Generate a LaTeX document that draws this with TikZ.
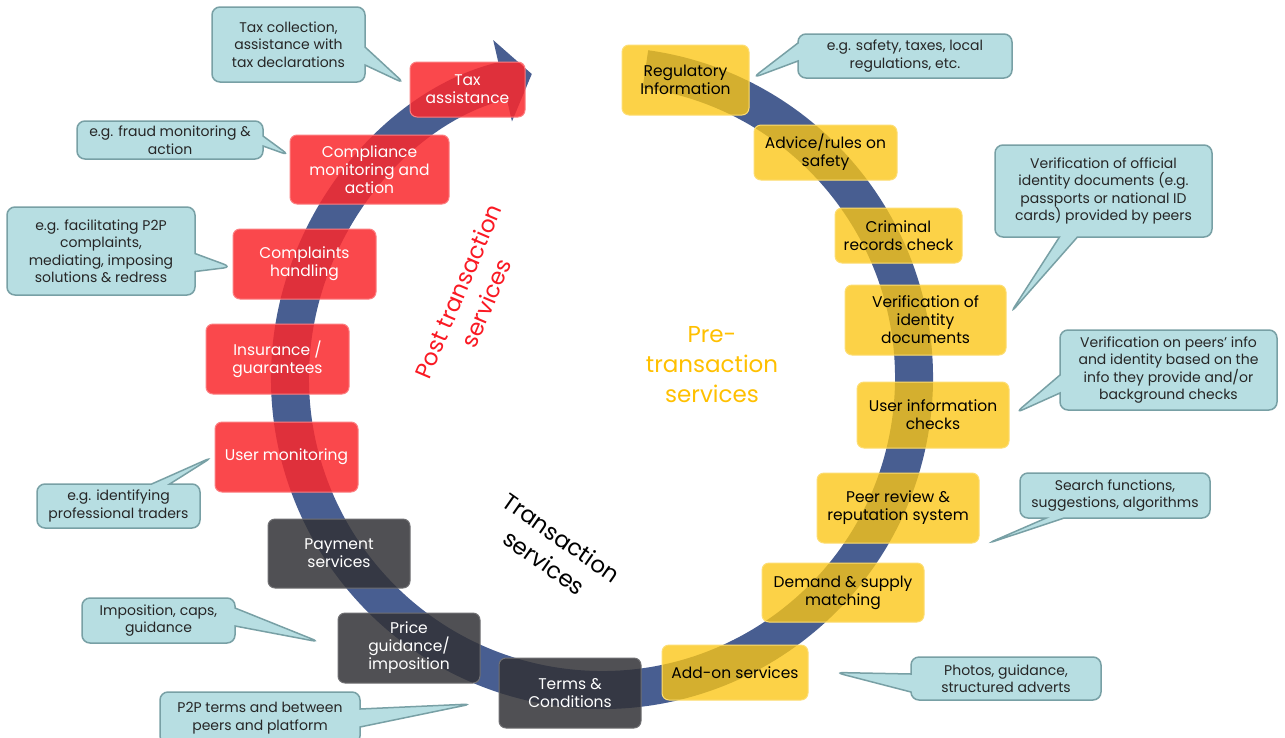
\documentclass[tikz,border=0pt]{standalone}
\usepackage{fontspec}
\setmainfont{Poppins}
\usetikzlibrary{arrows.meta,shapes.callouts,calc}

\definecolor{bandblue}{RGB}{72,94,145}
\definecolor{postred}{RGB}{250,40,45}
\definecolor{preyellow}{RGB}{252,198,20}
\definecolor{transgrey}{RGB}{50,50,55}
\definecolor{notefill}{RGB}{183,222,226}
\definecolor{noteline}{RGB}{120,160,165}
\definecolor{postlabel}{RGB}{250,25,35}
\definecolor{prelabel}{RGB}{255,192,0}

\tikzset{
  wh/.style 2 args={minimum width=#1pt, minimum height=#2pt},
  svc/.style={rectangle, rounded corners=7pt, align=center, inner sep=2pt,
    line width=1pt, text opacity=1, font=\fontsize{15.5}{18}\selectfont},
  postbox/.style={svc, fill=postred, fill opacity=0.85, draw=postred!60!white, text=white},
  prebox/.style={svc, fill=preyellow, fill opacity=0.78, draw=preyellow!60!white, text=black},
  transbox/.style={svc, fill=transgrey, fill opacity=0.85, draw=transgrey!70!white, text=white},
  note/.style={rectangle callout, rounded corners=8pt, fill=notefill, draw=noteline,
    line width=1.5pt, align=center, inner sep=2pt, text=black!85,
    callout pointer width=18pt, font=\fontsize{14}{17.5}\selectfont},
  phase/.style={align=center, font=\fontsize{23}{30}\selectfont},
}

\begin{document}
\begin{tikzpicture}[x=1pt, y=-1pt]
    \fill[white] (0,0) rectangle (1285,737);
    \useasboundingbox (0,0) rectangle (1285,737);

    % the cycle
    \draw[line width=38pt, bandblue, -{Triangle[width=82pt,length=30pt]}]
        (602,378) ++(-82:312) arc[start angle=-82, end angle=257, radius=312];

    % pre-transaction services
    \node[prebox, wh={127}{70}] (reg) at (685.5,80) {Regulatory\\Information};
    \node[prebox, wh={143}{55}] (advice) at (825.5,152.5) {Advice/rules on\\safety};
    \node[prebox, wh={127}{55}] (crim) at (898.5,235.5) {Criminal\\records check};
    \node[prebox, wh={161}{70}] (verif) at (925.5,320) {Verification of\\identity\\documents};
    \node[prebox, wh={152}{66}] (uinfo) at (933,415) {User information\\checks};
    \node[prebox, wh={162}{70}] (peer) at (898,508) {Peer review \&\\reputation system};
    \node[prebox, wh={162}{59}] (demand) at (843,592.5) {Demand \& supply\\matching};
    \node[prebox, wh={146}{55}] (addon) at (735,672.5) {Add-on services};

    % transaction services
    \node[transbox, wh={142}{70}] (terms) at (570,693) {Terms \&\\Conditions};
    \node[transbox, wh={142}{70}] (price) at (409,648) {Price\\guidance/\\imposition};
    \node[transbox, wh={142}{69}] (pay) at (339,553.5) {Payment\\services};

    % post transaction services
    \node[postbox, wh={143}{70}] (umon) at (286.5,457) {User monitoring};
    \node[postbox, wh={143}{70}] (insur) at (277.5,359) {Insurance /\\guarantees};
    \node[postbox, wh={143}{70}] (compl) at (304.5,264) {Complaints\\handling};
    \node[postbox, wh={159}{69}] (compli) at (369.5,169.5) {Compliance\\monitoring and\\action};
    \node[postbox, wh={115}{55}] (tax) at (467.5,89.5) {Tax\\assistance};

    % phase labels
    \node[phase, text=prelabel] (prelbl) at (712,365) {Pre-\\transaction\\services};
    \node[phase, text=postlabel, rotate=67] (postlbl) at (472,297) {Post transaction\\services};
    \node[phase, text=black, rotate=-35] (translbl) at (553,550) {Transaction\\services};

    % notes
    \node[note, wh={153}{75}, callout absolute pointer={($(tax.west)+(-5,-6)$)}]
        (ntax) at (288.5,44.5) {Tax collection,\\assistance with\\tax declarations};
    \node[note, wh={186}{38}, callout pointer width=10pt,
        callout absolute pointer={($(compli.west)+(0,-14)$)}]
        (ncompli) at (170,140) {e.g. fraud monitoring \&\\action};
    \node[note, wh={188}{88}, callout absolute pointer={($(compl.west)+(-1,3)$)}]
        (ncompl) at (101,251) {e.g. facilitating P2P\\complaints,\\mediating, imposing\\solutions \& redress};
    \node[note, wh={163}{44}, callout absolute pointer={($(umon.west)+(-2,0)$)}]
        (numon) at (118.5,506) {e.g. identifying\\professional traders};
    \node[note, wh={153}{45}, callout absolute pointer={($(price.west)+(-18,-6)$)}]
        (nprice) at (158.5,620.5) {Imposition, caps,\\guidance};
    \node[note, wh={200}{52}, callout absolute pointer={($(terms.west)+(-27,11)$)}]
        (nterms) at (260,718) {P2P terms and between\\peers and platform};
    \node[note, wh={214}{44}, callout absolute pointer={($(reg.east)+(3,-2)$)}]
        (nreg) at (905,56) {e.g. safety, taxes, local\\regulations, etc.};
    \node[note, wh={217}{92}, callout absolute pointer={($(verif.east)+(4,-7)$)}]
        (nverif) at (1103.5,191) {Verification of official\\identity documents (e.g.\\passports or national ID\\cards) provided by peers};
    \node[note, wh={217}{80}, callout absolute pointer={($(uinfo.east)+(6,-2)$)}]
        (nuinfo) at (1168.5,370) {Verification on peers’ info\\and identity based on the\\info they provide and/or\\background checks};
    \node[note, wh={190}{45}, callout absolute pointer={($(peer.south east)+(8,0)$)}]
        (npeer) at (1115,495.5) {Search functions,\\suggestions, algorithms};
    \node[note, wh={190}{43}, callout absolute pointer={($(addon.east)+(27,0)$)}]
        (naddon) at (1006,678.5) {Photos, guidance,\\structured adverts};

\end{tikzpicture}
\end{document}
